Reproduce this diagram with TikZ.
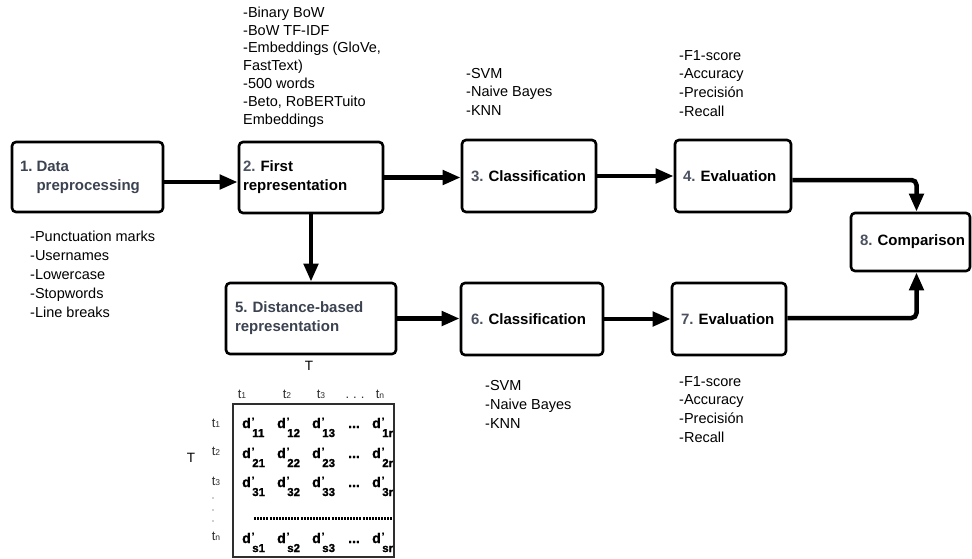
\documentclass[tikz,border=0pt]{standalone}
\usepackage{fontspec}
\setmainfont{Liberation Sans}
\usetikzlibrary{arrows.meta,calc}
\definecolor{numgray}{HTML}{4B5160}
\definecolor{slate}{HTML}{3B4250}
\definecolor{hdr}{HTML}{2E2E2E}
\hyphenpenalty=10000
\exhyphenpenalty=10000
\newcommand{\dd}[1]{d\makebox[0pt][l]{\hspace{1pt}\raisebox{3.5pt}{\fontsize{10}{10}\selectfont ’}}\hspace{1.5pt}\raisebox{-9pt}{\fontsize{11.5}{11.5}\selectfont #1}}
\newcommand{\tsub}[1]{t\raisebox{-0.5pt}{\fontsize{8.5}{8.5}\selectfont #1}}
\begin{document}
\begin{tikzpicture}[x=1pt,y=-1pt,
  box/.style={draw, line width=2.6pt, rounded corners=4pt, inner ysep=0pt, align=left,
    font=\fontsize{15}{19}\selectfont\bfseries},
  flow/.style={line width=4.5pt, -{Triangle[length=18pt,width=14pt]}},
  lst/.style={anchor=north west, inner sep=0pt, align=left},
  ent/.style={anchor=base west, inner sep=0pt, font=\fontsize{14}{14}\selectfont\bfseries\addfontfeature{FakeBold=1.2}},
  hd/.style={anchor=base, inner sep=0pt, text=hdr, font=\fontsize{13}{13}\selectfont},
  tlab/.style={inner sep=0pt, font=\fontsize{13.5}{13.5}\selectfont}]
\useasboundingbox (0,0) rectangle (972,558);

% boxes
\node[box, inner xsep=8pt, text width=135pt, minimum height=70pt, text=slate] (b1) at (87.5,177)
  {\begin{tabular}{@{}l@{\hspace{4pt}}l@{}}1.&Data\\&preprocessing\end{tabular}};
\node[box, inner xsep=4pt, text width=136pt, minimum height=71pt] (b2) at (311,177.5)
  {\textcolor{numgray}{2.}~First\\representation};
\node[box, inner xsep=9pt, text width=116pt, minimum height=72pt] (b3) at (529,176)
  {\textcolor{numgray}{3.}~Classification};
\node[box, inner xsep=8pt, text width=100pt, minimum height=72pt] (b4) at (733,176)
  {\textcolor{numgray}{4.}~Evaluation};
\node[box, inner xsep=9pt, text width=152pt, minimum height=71pt, text=slate] (b5) at (311,318.5)
  {5.~Distance-based\\representation};
\node[box, inner xsep=10pt, text width=122pt, minimum height=72pt] (b6) at (532,319)
  {\textcolor{numgray}{6.}~Classification};
\node[box, inner xsep=9pt, text width=96pt, minimum height=72pt] (b7) at (729,319)
  {\textcolor{numgray}{7.}~Evaluation};
\node[box, inner xsep=9pt, text width=101pt, minimum height=58pt] (b8) at (910.5,242)
  {\textcolor{numgray}{8.}~Comparison};

% lists
\node[lst, font=\fontsize{14.5}{17.8}\selectfont] (l2) at (243,6.6)
  {-Binary BoW\\-BoW TF-IDF\\-Embeddings (GloVe,\\FastText)\\-500 words\\-Beto, RoBERTuito\\Embeddings};
\node[lst, font=\fontsize{14.5}{18.5}\selectfont] (l3) at (466,68)
  {-SVM\\-Naive Bayes\\-KNN};
\node[lst, font=\fontsize{14.5}{18.7}\selectfont] (l4) at (679,50)
  {-F1-score\\-Accuracy\\-Precisión\\-Recall};
\node[lst, font=\fontsize{14.5}{19}\selectfont] (l1) at (30,231)
  {-Punctuation marks\\-Usernames\\-Lowercase\\-Stopwords\\-Line breaks};
\node[lst, font=\fontsize{14.5}{19}\selectfont] (l6) at (485,380)
  {-SVM\\-Naive Bayes\\-KNN};
\node[lst, font=\fontsize{14.5}{18.7}\selectfont] (l7) at (679,376)
  {-F1-score\\-Accuracy\\-Precisión\\-Recall};

% connectors
\draw[flow] ($(b1.east)+(0,5)$) -- ($(b1.east -| b2.west)+(0,5)$);
\draw[flow] (b2.east) -- (b2.east -| b3.west);
\draw[flow] (b3.east) -- (b3.east -| b4.west);
\draw[flow] (b2.south) -- (b5.north);
\draw[flow] (b5.east) -- (b5.east -| b6.west);
\draw[flow] (b6.east) -- (b6.east -| b7.west);
\draw[flow, rounded corners=5pt] ($(b4.east)+(0,4)$) -| ($(b8.north)+(6,0)$);
\draw[flow, rounded corners=5pt] ($(b7.east)+(0,-1)$) -| ($(b8.south)+(6,0)$);

% T labels
\node[tlab] (ttop) at (309,366) {T};
\node[tlab] (tleft) at (191,458) {T};

% matrix frame
\node[draw=hdr, line width=1.6pt, minimum width=161pt, minimum height=153pt, inner sep=0pt] (mat) at (313.5,480.5) {};

% column headers
\node[hd] (c1) at (242,398) {\tsub{1}};
\node[hd] (c2) at (287,398) {\tsub{2}};
\node[hd] (c3) at (321,398) {\tsub{3}};
\node[hd] (c4) at (355,398) {.\hspace{4pt}.\hspace{4pt}.};
\node[hd] (c5) at (380,398) {\tsub{n}};

% row headers
\node[hd] (r1) at (216,427) {\tsub{1}};
\node[hd] (r2) at (216,455) {\tsub{2}};
\node[hd] (r3) at (216,485) {\tsub{3}};
\node[hd] (r4) at (216,540) {\tsub{n}};
\fill[hdr] (213,498) circle (0.7pt) (213,510) circle (0.7pt) (213,521) circle (0.7pt);

% entries
\foreach \r/\y/\p in {1/428/1, 2/458/2, 3/487/3, 4/543/s}{
  \node[ent] (e\r a) at (242,\y) {\dd{\p1}};
  \node[ent] (e\r b) at (277,\y) {\dd{\p2}};
  \node[ent] (e\r c) at (312,\y) {\dd{\p3}};
  \node[ent] (e\r d) at (348,\y) {...};
  \node[ent] (e\r e) at (372,\y) {\dd{\p r}};
}
\draw[line width=3pt, dash pattern=on 2pt off 1.1pt] (254,518) -- (392,518);
\end{tikzpicture}
\end{document}
